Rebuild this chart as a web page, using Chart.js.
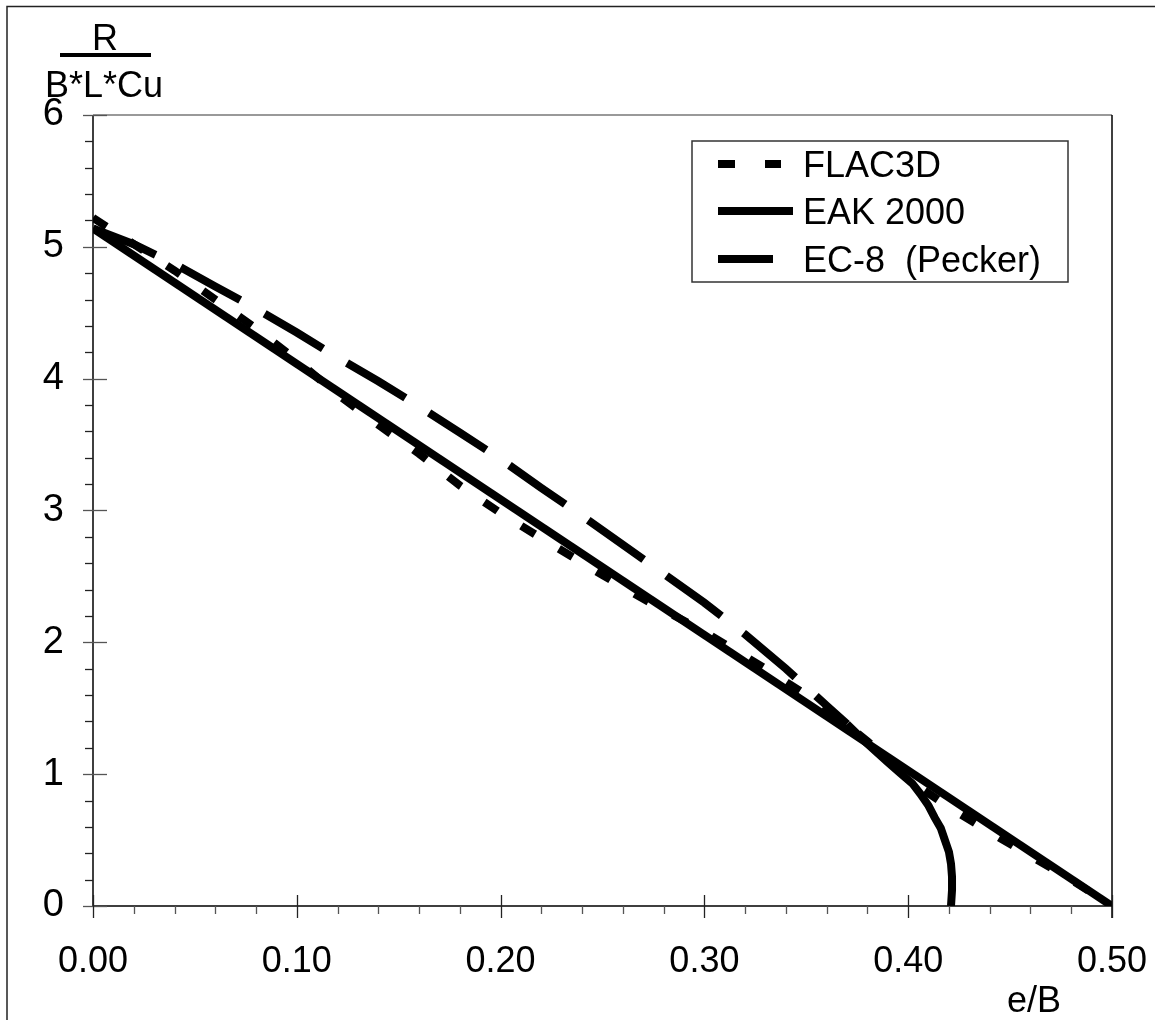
<!DOCTYPE html>
<html>
<head>
<meta charset="utf-8">
<script src="https://cdn.jsdelivr.net/npm/chart.js@4"></script>
<style>
  html, body { margin: 0; padding: 0; background: #fff; }
  #wrap { width: 1155px; height: 1020px; }
</style>
</head>
<body>
<div id="wrap"><canvas id="chart" width="1155" height="1020"></canvas></div>
<script>
// values
var flacX = [0, 0.02, 0.04, 0.06, 0.08, 0.10, 0.12, 0.14, 0.16, 0.18, 0.20, 0.22, 0.25, 0.27, 0.30, 0.33, 0.36, 0.38, 0.40, 0.42, 0.44, 0.46, 0.48, 0.50];
var flacY = [5.22, 5.02, 4.82, 4.60, 4.38, 4.14, 3.88, 3.65, 3.43, 3.19, 2.98, 2.79, 2.51, 2.33, 2.08, 1.80, 1.50, 1.25, 0.96, 0.75, 0.56, 0.38, 0.20, 0.0];

var eakX = [0, 0.5];
var eakY = [5.14, 0];

var ec8X = [0, 0.02, 0.04, 0.06, 0.08, 0.10, 0.12, 0.14, 0.16, 0.18, 0.20, 0.22, 0.24, 0.26, 0.28, 0.30, 0.32, 0.34, 0.36, 0.37, 0.38, 0.39, 0.396, 0.402, 0.406, 0.41, 0.413, 0.416, 0.418, 0.42, 0.421, 0.4215, 0.4215, 0.421];
var ec8Y = [5.14, 5.02, 4.87, 4.70, 4.53, 4.35, 4.16, 3.98, 3.79, 3.59, 3.39, 3.17, 2.96, 2.74, 2.52, 2.30, 2.06, 1.80, 1.52, 1.38, 1.23, 1.09, 1.01, 0.93, 0.85, 0.76, 0.67, 0.59, 0.50, 0.41, 0.32, 0.22, 0.12, 0.0];

var seriesNames = ["FLAC3D", "EAK 2000", "EC-8  (Pecker)"];
var xTicks = [0, 0.1, 0.2, 0.3, 0.4, 0.5];
var yTicks = [0, 1, 2, 3, 4, 5, 6];

var FONT = "'Liberation Sans', Arial, sans-serif";

function pts(xs, ys) {
  return xs.map(function (x, i) { return { x: x, y: ys[i] }; });
}

// axes frame, minor ticks, titles and legend
var decor = {
  id: "decor",
  afterDraw: function (chart) {
    var c = chart.ctx;
    var xs = chart.scales.x, ys = chart.scales.y;
    var a = chart.chartArea;
    c.save();

    // outer frame (top + left only)
    c.strokeStyle = "#222";
    c.lineWidth = 1.5;
    c.beginPath();
    c.moveTo(7, 1020); c.lineTo(7, 6.5); c.lineTo(1155, 6.5);
    c.stroke();

    // top and right of plot box
    c.strokeStyle = "#777";
    c.lineWidth = 1.5;
    c.beginPath();
    c.moveTo(a.left, a.top); c.lineTo(a.right, a.top);
    c.stroke();
    c.strokeStyle = "#000";
    c.beginPath();
    c.moveTo(a.right, a.top); c.lineTo(a.right, a.bottom + 12);
    c.stroke();

    // left + bottom axis
    c.strokeStyle = "#000";
    c.beginPath();
    c.moveTo(a.left, a.top); c.lineTo(a.left, a.bottom); c.lineTo(a.right, a.bottom);
    c.stroke();

    // y ticks
    c.lineWidth = 1.3;
    for (var v = 0; v <= 6.001; v += 0.2) {
      var py = Math.round(ys.getPixelForValue(v)) + 0.5;
      var major = Math.abs(v - Math.round(v)) < 0.001;
      c.strokeStyle = major ? "#555" : "#222";
      c.beginPath();
      c.moveTo(a.left - (major ? 10 : 8), py);
      c.lineTo(a.left + (major ? 14 : 0), py);
      c.stroke();
    }
    // x ticks
    for (var k = 0; k <= 25; k++) {
      var xv = k * 0.02;
      var px = Math.round(xs.getPixelForValue(xv)) + 0.5;
      var maj = k % 5 === 0;
      c.strokeStyle = maj ? "#222" : "#555";
      c.beginPath();
      c.moveTo(px, a.bottom - (maj ? 11 : 0));
      c.lineTo(px, a.bottom + (maj ? 12 : 8));
      c.stroke();
    }

    // axis titles
    c.fillStyle = "#000";
    c.font = "36px " + FONT;
    c.textAlign = "center";
    c.textBaseline = "alphabetic";
    c.fillText("R", 105, 50);
    c.fillRect(60, 53, 91, 4);
    c.fillText("B*L*Cu", 104, 97);
    c.fillText("e/B", 1034, 1012);

    // legend
    var lx = 692, ly = 141, lw = 376, lh = 141;
    c.fillStyle = "#fff";
    c.fillRect(lx, ly, lw, lh);
    c.strokeStyle = "#333";
    c.lineWidth = 1.5;
    c.strokeRect(lx, ly, lw, lh);
    var rows = [164, 211, 259];
    var sampleLen = [63, 75, 55];
    chart.data.datasets.forEach(function (ds, i) {
      c.strokeStyle = ds.borderColor;
      c.lineWidth = ds.borderWidth;
      c.lineCap = "butt";
      c.setLineDash(i === 0 ? [17, 30] : []);
      c.beginPath();
      c.moveTo(718, rows[i]);
      c.lineTo(718 + sampleLen[i], rows[i]);
      c.stroke();
      c.setLineDash([]);
      c.fillStyle = "#000";
      c.textAlign = "left";
      c.textBaseline = "middle";
      c.fillText(ds.label, 803, rows[i] + 3);
    });
    c.restore();
  }
};

new Chart("chart", {
  type: "scatter",
  data: {
    datasets: [
      {
        label: seriesNames[0],
        data: pts(flacX, flacY),
        showLine: true,
        borderColor: "#000",
        borderWidth: 8,
        borderDash: [16, 28],
        pointRadius: 0,
        tension: 0
      },
      {
        label: seriesNames[1],
        data: pts(eakX, eakY),
        showLine: true,
        borderColor: "#000",
        borderWidth: 8,
        pointRadius: 0
      },
      {
        label: seriesNames[2],
        data: pts(ec8X, ec8Y),
        showLine: true,
        borderColor: "#000",
        borderWidth: 8,
        borderDash: [68, 28],
        pointRadius: 0,
        segment: {
          borderDash: function (ctx) { return ctx.p0.parsed.x >= 0.37 ? [] : undefined; }
        }
      }
    ]
  },
  options: {
    responsive: false,
    animation: false,
    layout: { padding: { left: 0, right: 43, top: 115, bottom: 0 } },
    plugins: {
      legend: { display: false },
      tooltip: { enabled: false }
    },
    scales: {
      x: {
        type: "linear",
        min: 0,
        max: 0.5,
        afterFit: function (s) { s.height = 114; },
        afterBuildTicks: function (s) { s.ticks = xTicks.map(function (v) { return { value: v }; }); },
        grid: { display: false, drawTicks: true, tickLength: 34 },
        border: { display: false },
        ticks: {
          padding: 0,
          color: "#000",
          font: { family: FONT, size: 36 },
          maxRotation: 0,
          callback: function (v) { return v.toFixed(2); }
        }
      },
      y: {
        type: "linear",
        min: 0,
        max: 6,
        afterFit: function (s) { s.width = 93; },
        afterBuildTicks: function (s) { s.ticks = yTicks.map(function (v) { return { value: v }; }); },
        grid: { display: false, drawTicks: true, tickLength: 29 },
        border: { display: false },
        ticks: {
          padding: 0,
          color: "#000",
          font: { family: FONT, size: 38 },
          callback: function (v) { return String(v); }
        }
      }
    }
  },
  plugins: [decor]
});
</script>
</body>
</html>
